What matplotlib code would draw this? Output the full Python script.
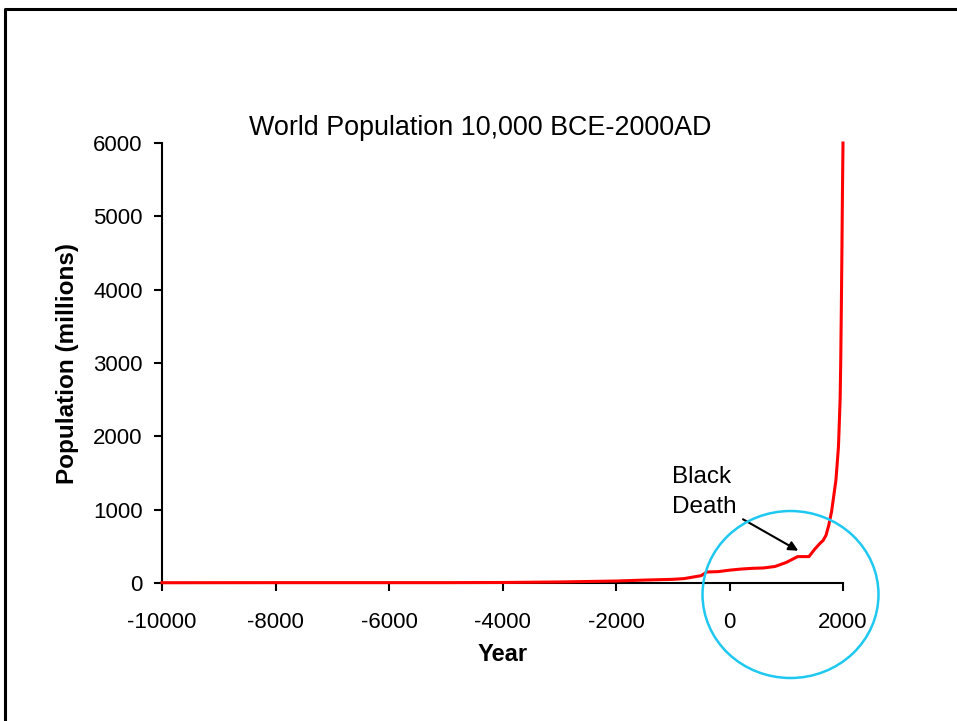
import matplotlib
matplotlib.use("Agg")
import matplotlib.pyplot as plt
from matplotlib.patches import Ellipse
from matplotlib.lines import Line2D

plt.rcParams['font.family'] = ['Liberation Sans', 'DejaVu Sans']
plt.rcParams['axes.unicode_minus'] = False

# world population estimates (millions)
years = [-10000, -8000, -6500, -5000, -4000, -3000, -2000, -1500, -1000, -800,
         -500, -400, -200, 1, 200, 400, 600, 800, 1000, 1100, 1200, 1250,
         1300, 1350, 1400, 1500, 1600, 1650, 1700, 1750, 1800, 1850, 1875,
         1900, 1920, 1930, 1940, 1950, 1960, 1970, 1980, 1990, 2000]
population = [4, 5, 5, 5, 7, 14, 27, 40, 50, 60,
              100, 150, 155, 175, 190, 200, 205, 225, 280, 320, 360, 360,
              360, 360, 360, 460, 545, 580, 650, 790, 980, 1260, 1400,
              1650, 1860, 2070, 2300, 2520, 3020, 3700, 4450, 5300, 6000]

xticks = [-10000, -8000, -6000, -4000, -2000, 0, 2000]
yticks = [0, 1000, 2000, 3000, 4000, 5000, 6000]

fig = plt.figure(figsize=(9.57, 7.21), dpi=100)
ax = fig.add_axes([162 / 957, 1 - 583 / 721, 681 / 957, 440 / 721])

ax.plot(years, population, color='#ff0000', lw=2.2, zorder=5, clip_on=False)

ax.set_xlim(-10000, 2000)
ax.set_ylim(0, 6000)
ax.set_xticks(xticks)
ax.set_yticks(yticks)
ax.spines['top'].set_visible(False)
ax.spines['right'].set_visible(False)
for s in ('left', 'bottom'):
    ax.spines[s].set_linewidth(1.5)
ax.tick_params(axis='both', length=6, width=1.5, labelsize=16)
ax.tick_params(axis='x', pad=15)
ax.tick_params(axis='y', pad=8)

ax.set_xlabel('Year', fontsize=17, fontweight='bold', labelpad=7)
ax.set_ylabel('Population (millions)', fontsize=17.5, fontweight='bold', labelpad=10)

fig.text(480 / 957, 1 - 128 / 721, 'World Population 10,000 BCE-2000AD',
         fontsize=19.4, ha='center', va='center')

# Black Death note
ax.text(-1013, 1590, 'Black\nDeath', fontsize=17.5, ha='left', va='top',
        linespacing=1.45)
ax.annotate('', xy=(1212, 440), xytext=(238, 869),
            arrowprops=dict(arrowstyle='-|>', color='black', lw=1.5,
                            mutation_scale=14, shrinkA=0, shrinkB=0))

ax.add_patch(Ellipse((1075, -157), 3101, 2277, fill=False,
                     edgecolor='#1ec8f0', lw=1.8, clip_on=False, zorder=6))

# slide frame
fig.add_artist(Line2D([5 / 957, 5 / 957, 1.01], [-0.01, 1 - 8.5 / 721, 1 - 8.5 / 721],
                      color='black', lw=2.2, transform=fig.transFigure))

fig.savefig('out.png', dpi=100)
